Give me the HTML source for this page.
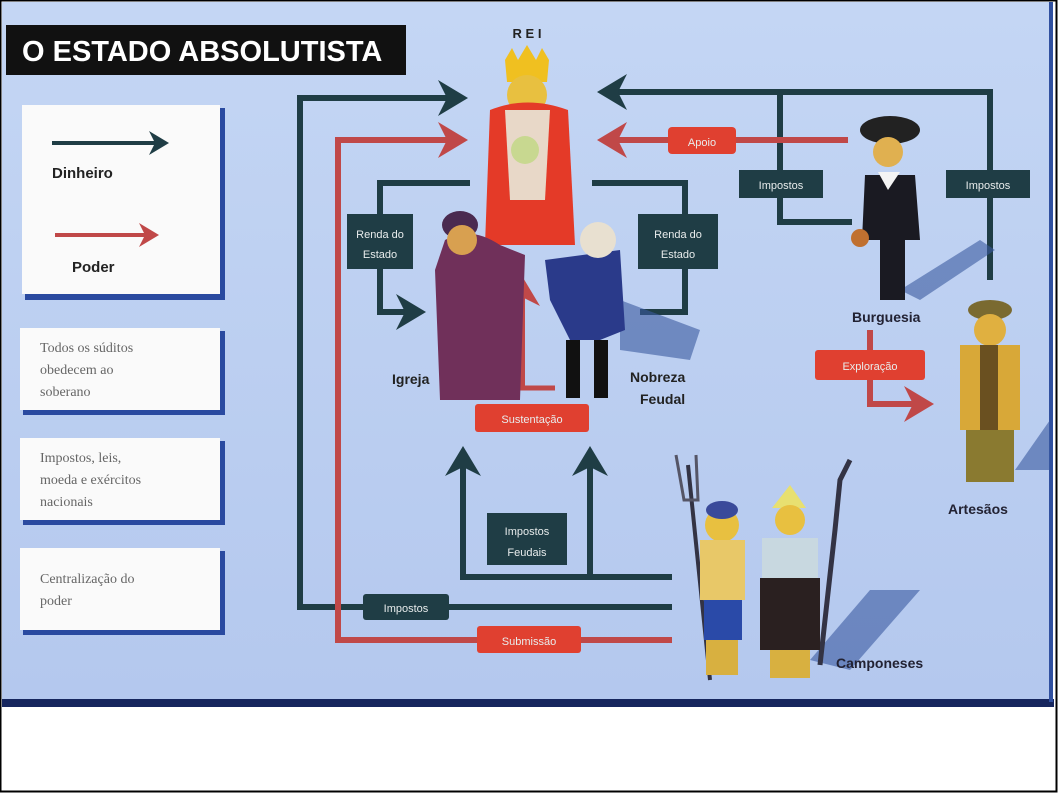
<!DOCTYPE html>
<html><head><meta charset="utf-8"><style>
html,body{margin:0;padding:0;background:#fff}
svg{display:block}
text{font-family:"Liberation Sans",sans-serif}
.s{font-family:"Liberation Serif",serif;fill:#666;font-size:14px}
.lb{fill:#e8ecec;font-size:11px;text-anchor:middle}
</style></head><body>
<svg width="1058" height="793" viewBox="0 0 1058 793" xmlns="http://www.w3.org/2000/svg">
<defs>
<linearGradient id="bg" x1="0" y1="0" x2="0" y2="1">
<stop offset="0" stop-color="#c4d6f4"/><stop offset="1" stop-color="#b4c8ee"/></linearGradient>
<marker id="ad" markerWidth="6" markerHeight="6" refX="4" refY="3" orient="auto" markerUnits="strokeWidth"><path d="M0,0 L5,3 L0,6 L1.5,3z" fill="#1f3d45"/></marker>
<marker id="ar" markerWidth="6" markerHeight="6" refX="4" refY="3" orient="auto" markerUnits="strokeWidth"><path d="M0,0 L5,3 L0,6 L1.5,3z" fill="#c04848"/></marker>
</defs>
<rect x="0" y="0" width="1058" height="793" fill="#fff"/>
<rect x="2" y="2" width="1050" height="702" fill="url(#bg)"/>
<rect x="2" y="699" width="1052" height="8" fill="#16265e"/>
<rect x="1049" y="2" width="4" height="700" fill="#3050a0"/>
<rect x="0.5" y="0.5" width="1056" height="791" fill="none" stroke="#000" stroke-width="2"/>

<!-- title -->
<rect x="6" y="25" width="400" height="50" fill="#111"/>
<text x="22" y="61" fill="#fff" font-size="29" font-weight="bold">O ESTADO ABSOLUTISTA</text>

<!-- legend boxes -->
<g>
<rect x="25" y="108" width="200" height="192" fill="#2a4aa0"/>
<rect x="22" y="105" width="198" height="189" fill="#fafafa"/>
<line x1="52" y1="143" x2="165" y2="143" stroke="#1f3d45" stroke-width="4" marker-end="url(#ad)"/>
<text x="52" y="178" font-size="15" font-weight="bold" fill="#222">Dinheiro</text>
<line x1="55" y1="235" x2="155" y2="235" stroke="#c04848" stroke-width="4" marker-end="url(#ar)"/>
<text x="72" y="272" font-size="15" font-weight="bold" fill="#222">Poder</text>

<rect x="23" y="331" width="202" height="84" fill="#2a4aa0"/>
<rect x="20" y="328" width="200" height="82" fill="#fafafa"/>
<text class="s"><tspan x="40" y="352">Todos os súditos</tspan><tspan x="40" y="374">obedecem ao</tspan><tspan x="40" y="396">soberano</tspan></text>

<rect x="23" y="441" width="202" height="84" fill="#2a4aa0"/>
<rect x="20" y="438" width="200" height="82" fill="#fafafa"/>
<text class="s"><tspan x="40" y="462">Impostos, leis,</tspan><tspan x="40" y="484">moeda e exércitos</tspan><tspan x="40" y="506">nacionais</tspan></text>

<rect x="23" y="551" width="202" height="84" fill="#2a4aa0"/>
<rect x="20" y="548" width="200" height="82" fill="#fafafa"/>
<text class="s"><tspan x="40" y="583">Centralização do</tspan><tspan x="40" y="605">poder</tspan></text>
</g>

<!-- big left loops -->
<polyline points="672,607 300,607 300,98 462,98" fill="none" stroke="#1f3d45" stroke-width="6" marker-end="url(#ad)"/>
<polyline points="672,640 338,640 338,140 462,140" fill="none" stroke="#c04848" stroke-width="6" marker-end="url(#ar)"/>
<rect x="363" y="594" width="86" height="26" rx="3" fill="#1f3d45"/>
<text x="406" y="612" class="lb" font-size="13">Impostos</text>
<rect x="477" y="626" width="104" height="27" rx="3" fill="#e04030"/>
<text x="529" y="645" class="lb" font-size="13" fill="#fff">Submissão</text>

<!-- feudal -->
<polyline points="672,577 463,577 463,452" fill="none" stroke="#1f3d45" stroke-width="6" marker-end="url(#ad)"/>
<line x1="590" y1="577" x2="590" y2="452" stroke="#1f3d45" stroke-width="6" marker-end="url(#ad)"/>
<rect x="487" y="513" width="80" height="52" fill="#1f3d45"/>
<text class="lb" font-size="13"><tspan x="527" y="535">Impostos</tspan><tspan x="527" y="556">Feudais</tspan></text>

<!-- renda left -->
<polyline points="470,183 380,183 380,312 420,312" fill="none" stroke="#1f3d45" stroke-width="6" marker-end="url(#ad)"/>
<rect x="347" y="214" width="66" height="55" fill="#1f3d45"/>
<text class="lb"><tspan x="380" y="238">Renda do</tspan><tspan x="380" y="258">Estado</tspan></text>
<!-- renda right -->
<polyline points="592,183 685,183 685,312 640,312" fill="none" stroke="#1f3d45" stroke-width="6"/>
<rect x="638" y="214" width="80" height="55" fill="#1f3d45"/>
<text class="lb"><tspan x="678" y="238">Renda do</tspan><tspan x="678" y="258">Estado</tspan></text>

<!-- king -->
<text x="527" y="38" text-anchor="middle" font-family="Liberation Serif" font-size="13" font-weight="bold" fill="#222">R E I</text>
<path d="M505,60 L512,48 L518,60 L527,45 L536,60 L542,48 L549,60 L547,82 L507,82z" fill="#f0c020"/>
<circle cx="527" cy="95" r="20" fill="#e8c040"/>
<path d="M490,110 Q527,95 568,110 L575,245 L485,245z" fill="#e43a28"/>
<path d="M505,110 L550,110 L545,200 L510,200z" fill="#e8d8c8"/>
<circle cx="525" cy="150" r="14" fill="#c8d890"/>
<!-- sustentacao arrow -->
<line x1="508" y1="388" x2="555" y2="388" stroke="#c04848" stroke-width="5"/>
<line x1="522" y1="388" x2="522" y2="282" stroke="#c04848" stroke-width="6" marker-end="url(#ar)"/>
<!-- church -->
<path d="M445,240 Q470,225 500,245 L525,255 L520,400 L440,400 L435,270z" fill="#70305a"/>
<ellipse cx="460" cy="225" rx="18" ry="14" fill="#4a2a50"/>
<circle cx="462" cy="240" r="15" fill="#d8a050"/>
<text x="392" y="384" font-family="Liberation Serif" font-size="14" font-weight="bold" fill="#222">Igreja</text>
<!-- noble -->
<polygon points="620,300 700,330 690,360 620,350" fill="#3a5aa0" opacity="0.6"/>
<path d="M545,260 L620,250 L625,330 L600,340 L570,340 L550,300z" fill="#2a3a8a"/>
<circle cx="598" cy="240" r="18" fill="#e8e0d0"/>
<rect x="566" y="340" width="14" height="58" fill="#111"/>
<rect x="594" y="340" width="14" height="58" fill="#111"/>
<text font-family="Liberation Serif" font-size="14" font-weight="bold" fill="#222"><tspan x="630" y="382">Nobreza</tspan><tspan x="640" y="404">Feudal</tspan></text>
<rect x="475" y="404" width="114" height="28" rx="3" fill="#e04030"/>
<text x="532" y="423" class="lb" font-size="13" fill="#fff">Sustentação</text>

<!-- top right -->
<polyline points="990,280 990,92 603,92" fill="none" stroke="#1f3d45" stroke-width="6" marker-end="url(#ad)"/>
<polyline points="780,92 780,222 852,222" fill="none" stroke="#1f3d45" stroke-width="6"/>
<line x1="848" y1="140" x2="603" y2="140" stroke="#c04848" stroke-width="6" marker-end="url(#ar)"/>
<rect x="668" y="127" width="68" height="27" rx="4" fill="#e04030"/>
<text x="702" y="146" class="lb" font-size="13" fill="#fff">Apoio</text>
<rect x="739" y="170" width="84" height="28" fill="#1f3d45"/>
<text x="781" y="189" class="lb" font-size="13">Impostos</text>
<rect x="946" y="170" width="84" height="28" fill="#1f3d45"/>
<text x="988" y="189" class="lb" font-size="13">Impostos</text>

<!-- burgues -->
<polygon points="900,290 980,240 995,250 920,300" fill="#3a5aa0" opacity="0.6"/>
<ellipse cx="890" cy="130" rx="30" ry="14" fill="#222"/>
<circle cx="888" cy="152" r="15" fill="#e0b050"/>
<path d="M865,175 L915,175 L920,240 L905,240 L905,300 L880,300 L880,240 L862,240z" fill="#1a1a22"/>
<path d="M878,172 L888,190 L900,172z" fill="#f4f4f4"/>
<circle cx="860" cy="238" r="9" fill="#c07030"/>
<text x="852" y="322" font-family="Liberation Serif" font-size="14" font-weight="bold" fill="#223">Burguesia</text>

<!-- exploracao -->
<polyline points="870,330 870,404 928,404" fill="none" stroke="#c04848" stroke-width="6" marker-end="url(#ar)"/>
<rect x="815" y="350" width="110" height="30" rx="3" fill="#e04030"/>
<text x="870" y="370" class="lb" font-size="13" fill="#fff">Exploração</text>

<!-- artesao -->
<polygon points="1015,470 1050,420 1050,470" fill="#3a5aa0" opacity="0.6"/>
<ellipse cx="990" cy="310" rx="22" ry="10" fill="#7a6a30"/>
<circle cx="990" cy="330" r="16" fill="#e0b040"/>
<rect x="960" y="345" width="60" height="85" fill="#d8a838"/>
<rect x="980" y="345" width="18" height="85" fill="#6a5020"/>
<rect x="966" y="430" width="48" height="52" fill="#8a7a30"/>
<text x="948" y="514" font-family="Liberation Serif" font-size="14" font-weight="bold" fill="#223">Artesãos</text>

<!-- camponeses -->
<polygon points="810,660 870,590 920,590 850,670" fill="#3a5aa0" opacity="0.6"/>
<line x1="688" y1="465" x2="710" y2="680" stroke="#334" stroke-width="4"/>
<path d="M676,455 L684,500 L698,500 L696,455" fill="none" stroke="#556" stroke-width="3"/>
<path d="M820,665 L835,530 L840,480 L850,460" fill="none" stroke="#334" stroke-width="5"/>
<circle cx="722" cy="525" r="17" fill="#e8c040"/>
<ellipse cx="722" cy="510" rx="16" ry="9" fill="#3a4a9a"/>
<rect x="700" y="540" width="45" height="60" fill="#e8c868"/>
<rect x="704" y="600" width="38" height="40" fill="#2a4aa8"/>
<rect x="706" y="640" width="32" height="35" fill="#d8b040"/>
<path d="M772,508 L790,485 L806,508z" fill="#e8e070"/>
<circle cx="790" cy="520" r="15" fill="#e8c040"/>
<rect x="762" y="538" width="56" height="40" fill="#c8d8e0"/>
<rect x="760" y="578" width="60" height="72" fill="#2a2020"/>
<rect x="770" y="650" width="40" height="28" fill="#d8b040"/>
<text x="836" y="668" font-family="Liberation Serif" font-size="14" font-weight="bold" fill="#223">Camponeses</text>
</svg>
</body></html>
